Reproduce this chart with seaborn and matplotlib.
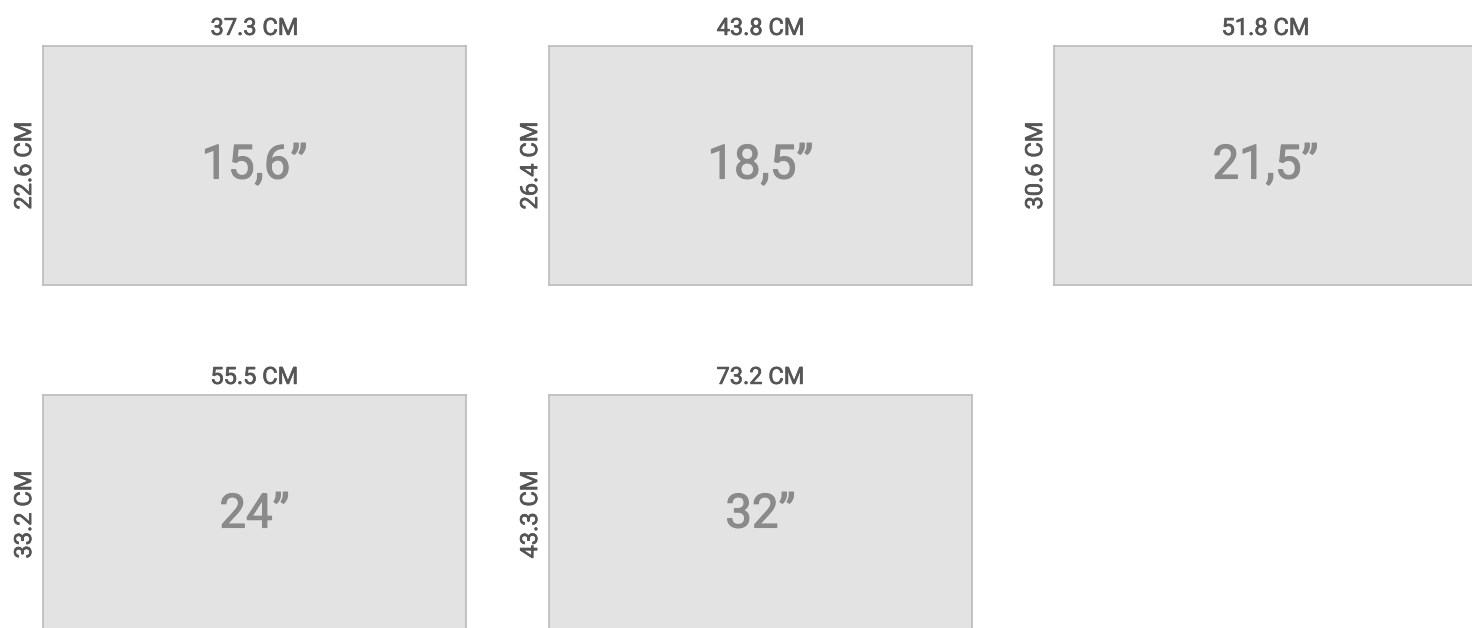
import matplotlib
matplotlib.use("Agg")
import matplotlib.pyplot as plt
import matplotlib.patheffects as pe
import seaborn as sns

# screen sizes: diagonal label, width and height in cm
diagonals = ["15,6\u201d", "18,5\u201d", "21,5\u201d", "24\u201d", "32\u201d"]
widths_cm = [37.3, 43.8, 51.8, 55.5, 73.2]
heights_cm = [22.6, 26.4, 30.6, 33.2, 43.3]

sns.set_theme(style="white", rc={
    "axes.facecolor": "#e3e3e3",
    "axes.edgecolor": "#bbbbbb",
    "axes.linewidth": 1.2,
})
plt.rcParams["font.family"] = ["Roboto", "DejaVu Sans"]

W, H = 1472, 628
fig = plt.figure(figsize=(W / 100, H / 100), dpi=100)
fig.patch.set_facecolor("white")

box_w, box_h = 423, 239
lefts = [43, 549, 1054]
tops = [46, 395]

# fake a "medium" weight with a thin outline in the text colour
label_fx = [pe.withStroke(linewidth=0.5, foreground="#555555")]
big_fx = [pe.withStroke(linewidth=0.8, foreground="#8a8a8a")]

for i, (diag, w, h) in enumerate(zip(diagonals, widths_cm, heights_cm)):
    row, col = divmod(i, 3)
    x0 = lefts[col]
    y0 = tops[row]
    ax = fig.add_axes([x0 / W, (H - y0 - box_h) / H, box_w / W, box_h / H])
    ax.set_xticks([])
    ax.set_yticks([])
    ax.set_title(f"{w:.1f} CM", fontsize=17, color="#555555",
                 pad=8, path_effects=label_fx)
    ax.set_ylabel(f"{h:.1f} CM", fontsize=17, color="#555555",
                  labelpad=5, path_effects=label_fx)
    ax.text(0.5, 0.5, diag, transform=ax.transAxes, ha="center",
            va="center", fontsize=34, color="#8a8a8a", path_effects=big_fx)

fig.savefig("out.png", dpi=100, facecolor="white")
